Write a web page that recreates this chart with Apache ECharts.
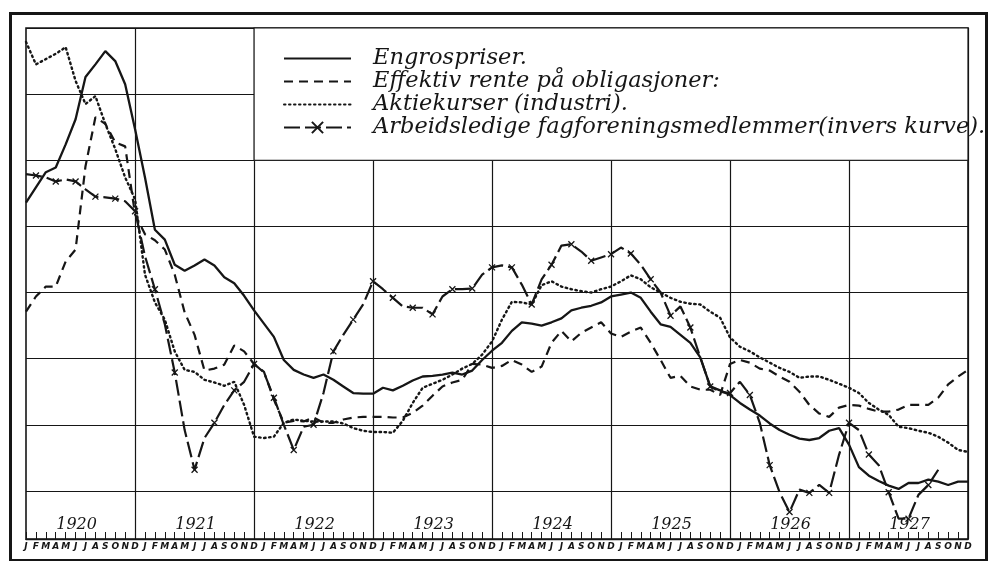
<!DOCTYPE html>
<html>
<head>
<meta charset="utf-8">
<script src="https://cdn.jsdelivr.net/npm/echarts@6/dist/echarts.min.js"></script>
<style>
html,body{margin:0;padding:0;background:#fff;}
#c{width:991px;height:561px;}
</style>
</head>
<body>
<div id="c"></div>
<script>
// ---- data (in grid units: 10 per horizontal grid band) ----
const years = ['1920','1921','1922','1923','1924','1925','1926','1927'];
const monthLetters = ['J','F','M','A','M','J','J','A','S','O','N','D'];
const seriesNames = [
  'Engrospriser.',
  'Effektiv rente på obligasjoner:',
  'Aktiekurser (industri).',
  'Arbeidsledige fagforeningsmedlemmer(invers kurve).'
];

const engrospriser = [
  43.6,45.9,48.2,48.9,52.4,56.2,62.6,64.5,66.5,65.0,61.5,54.7,
  47.4,39.5,38.0,34.2,33.3,34.1,35.0,34.1,32.3,31.4,29.5,27.3,
  25.3,23.3,19.8,18.3,17.6,17.1,17.6,16.8,15.8,14.8,14.7,14.7,
  15.6,15.2,15.9,16.7,17.3,17.4,17.6,17.9,17.6,18.2,19.8,21.2,
  22.4,24.2,25.5,25.3,25.0,25.5,26.1,27.3,27.7,28.0,28.5,29.4,
  29.7,30.0,29.2,27.1,25.2,24.8,23.6,22.4,20.2,15.8,15.2,14.5,
  13.3,12.3,11.4,10.2,9.2,8.5,7.9,7.7,8.0,9.1,9.5,7.0,
  3.6,2.3,1.5,0.8,0.3,1.2,1.2,1.7,1.4,0.9,1.4,1.4
];
const effektivRente = [
  27.1,29.4,30.9,30.9,34.7,36.5,49.1,56.5,55.5,52.7,52.1,41.8,
  38.8,37.9,36.5,32.7,27.0,23.6,18.2,18.5,19.1,22.0,21.1,19.2,
  18.0,13.8,10.3,10.6,10.5,11.1,10.3,10.3,10.8,11.1,11.2,11.2,
  11.2,11.1,11.1,11.8,12.9,14.4,15.8,16.4,16.8,19.2,19.1,18.6,
  18.9,19.8,19.1,18.0,18.8,22.4,24.2,22.6,23.9,24.7,25.5,23.8,
  23.3,24.1,24.7,22.4,19.8,17.1,17.4,15.8,15.3,15.3,14.5,19.2,
  19.8,19.4,18.5,18.2,17.3,16.5,15.0,13.0,11.7,11.2,12.6,13.0,
  12.9,12.4,12.0,12.0,12.3,13.0,13.0,13.0,14.1,16.1,17.3,18.3
];
const aktiekurser = [
  67.9,64.5,65.3,66.1,67.1,62.0,58.5,59.7,55.5,51.7,47.4,44.1,
  32.7,28.5,25.9,21.1,18.3,18.0,16.8,16.4,15.9,16.5,13.0,8.2,
  8.0,8.2,10.3,10.8,10.6,10.5,10.5,10.5,10.2,9.5,9.1,8.9,
  8.9,8.8,10.6,13.3,15.6,16.2,16.8,17.6,18.5,19.2,20.6,22.6,
  25.9,28.6,28.5,28.2,31.1,31.7,30.9,30.5,30.2,30.0,30.5,30.9,
  31.7,32.6,32.0,30.8,30.0,29.2,28.6,28.3,28.2,27.1,26.2,23.2,
  21.8,21.1,20.2,19.4,18.6,18.0,17.1,17.3,17.3,16.8,16.2,15.6,
  14.8,13.3,12.3,11.5,9.7,9.5,9.1,8.8,8.2,7.3,6.2,5.9
];
const arbeidsledige = [
  47.9,47.7,47.4,46.8,47.1,46.8,45.6,44.5,44.4,44.2,43.8,42.3,
  35.5,30.5,25.2,17.9,9.2,3.2,8.0,10.3,13.0,15.2,16.5,19.2,
  17.9,14.1,10.0,6.2,9.7,10.0,14.8,21.1,23.6,25.9,28.2,31.7,
  30.5,29.2,27.9,27.7,27.7,26.7,29.4,30.5,30.5,30.6,32.7,33.8,
  34.1,33.8,31.2,28.2,32.0,34.2,37.1,37.3,36.2,34.8,35.3,35.8,
  36.8,35.9,34.2,32.0,30.0,26.5,27.9,24.7,20.2,15.8,15.0,14.8,
  16.5,14.5,10.3,3.9,-0.2,-3.2,0.2,-0.3,0.9,-0.3,5.5,10.3,
  9.2,5.5,3.9,-0.2,-4.2,-4.2,-0.6,0.9,3.2,null,null,null
];

// ---- build ----
const categories = [];
years.forEach(y => monthLetters.forEach((m, i) => categories.push(y + '-' + (i + 1))));

const ink = '#161616';
const xMark = 'path://M0,0L10,10M10,0L0,10';
const hiddenIcon = {opacity: 0};

const chart = echarts.init(document.getElementById('c'), null, {renderer: 'canvas'});
chart.setOption({
  animation: false,
  backgroundColor: '#ffffff',
  grid: {left: 26, right: 23, top: 28, bottom: 22, show: true, borderColor: ink, borderWidth: 1.6, backgroundColor: 'transparent'},
  legend: {
    orient: 'vertical', left: 283, top: 47, padding: 0, itemWidth: 67, itemHeight: 14, itemGap: 0,
    selectedMode: false,
    data: [
      {name: seriesNames[0], itemStyle: hiddenIcon},
      {name: seriesNames[1], itemStyle: hiddenIcon},
      {name: seriesNames[2], itemStyle: hiddenIcon},
      {name: seriesNames[3]}
    ],
    textStyle: {fontFamily: 'DejaVu Serif', fontStyle: 'italic', fontSize: 22.5, lineHeight: 23, color: ink, padding: [0, 0, 0, 17]}
  },
  xAxis: [{
    type: 'category', data: categories, boundaryGap: false, position: 'bottom',
    axisLine: {show: true, onZero: false, lineStyle: {color: ink, width: 1.4}},
    axisTick: {show: true, inside: true, length: 7, interval: 0, lineStyle: {color: ink, width: 1}},
    axisLabel: {interval: 0, margin: 3, formatter: (v, i) => monthLetters[i % 12], fontSize: 9, fontStyle: 'italic', fontWeight: 'bold', fontFamily: 'DejaVu Sans', color: ink},
    splitLine: {show: true, interval: (i) => i % 12 === 11, lineStyle: {color: ink, width: 1.2}}
  }, {
    type: 'category', data: categories, boundaryGap: false, position: 'bottom',
    axisLine: {show: false, onZero: false}, axisTick: {show: false}, splitLine: {show: false},
    axisLabel: {
      inside: true, margin: 6, interval: (i) => i % 12 === 5,
      formatter: (v, i) => '{y|' + years[Math.floor(i / 12)] + '}',
      rich: {y: {fontSize: 16, fontStyle: 'italic', fontFamily: 'DejaVu Serif', color: ink, padding: [0, 0, 0, 2]}}
    }
  }],
  yAxis: {
    type: 'value', min: -7.27, max: 70, minInterval: 10, maxInterval: 10,
    axisLine: {show: false}, axisTick: {show: false}, axisLabel: {show: false},
    splitLine: {show: true, lineStyle: {color: ink, width: 1.2}}
  },
  graphic: [{
    type: 'rect', left: 8, top: 11, z: 100, silent: true,
    shape: {width: 976, height: 547},
    style: {fill: 'none', stroke: ink, lineWidth: 3}
  }],
  series: [{
    name: seriesNames[0], type: 'line', data: engrospriser, symbol: 'none',
    lineStyle: {color: ink, width: 2.3}, itemStyle: {color: ink},
    markArea: {
      silent: true,
      itemStyle: {color: '#ffffff', opacity: 1, borderColor: ink, borderWidth: 1.2},
      data: [[{xAxis: categories[23], yAxis: 50}, {xAxis: categories[95], yAxis: 70}]]
    }
  }, {
    name: seriesNames[1], type: 'line', data: effektivRente, symbol: 'none',
    lineStyle: {color: ink, width: 2.2, type: [9, 6]}, itemStyle: {color: ink}
  }, {
    name: seriesNames[2], type: 'line', data: aktiekurser, symbol: 'none',
    lineStyle: {color: ink, width: 2.4, type: [1.5, 3.5], cap: 'round'}, itemStyle: {color: ink}
  }, {
    name: seriesNames[3], type: 'line', symbol: xMark, symbolSize: 6, showSymbol: true,
    data: arbeidsledige.map((v, i) => ({value: v, symbol: i % 2 === 1 ? xMark : 'none'})),
    lineStyle: {color: ink, width: 2.2, type: [16, 5]},
    itemStyle: {color: 'transparent', borderColor: ink, borderWidth: 1.3}
  }]
});
</script>
</body>
</html>
